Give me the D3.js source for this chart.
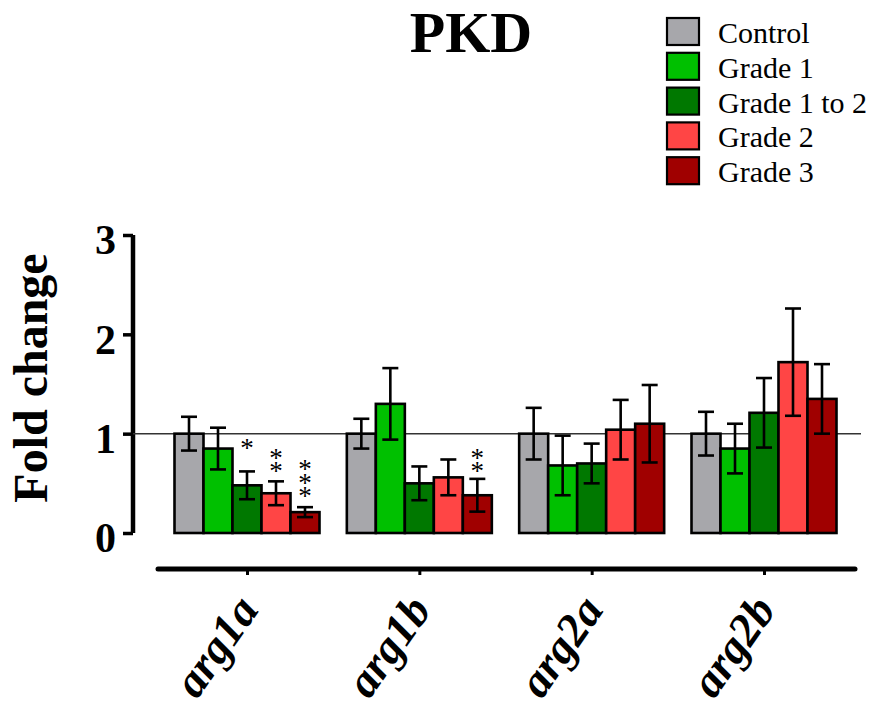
<!DOCTYPE html>
<html>
<head>
<meta charset="utf-8">
<script src="https://cdn.jsdelivr.net/npm/d3@7"></script>
<style>
  body { margin: 0; background: #fff; }
  svg { display: block; }
  .stars { writing-mode: vertical-rl; text-orientation: upright; }
</style>
</head>
<body>
<svg id="chart" width="877" height="713"></svg>
<script>
// ---- Data ----
const genes = ["arg1a", "arg1b", "arg2a", "arg2b"];
const groups = ["Control", "Grade 1", "Grade 1 to 2", "Grade 2", "Grade 3"];
const colors = ["#a7a7ab", "#00c000", "#007800", "#ff4545", "#a00000"];
// mean fold change per gene (rows) x group (cols)
const means = [
  [1.00, 0.85, 0.48, 0.40, 0.21],
  [1.00, 1.30, 0.50, 0.56, 0.38],
  [1.00, 0.68, 0.70, 1.04, 1.10],
  [1.00, 0.85, 1.21, 1.72, 1.35]
];
const errors = [
  [0.17, 0.21, 0.14, 0.12, 0.05],
  [0.15, 0.36, 0.17, 0.18, 0.165],
  [0.26, 0.30, 0.20, 0.30, 0.39],
  [0.22, 0.25, 0.35, 0.54, 0.35]
];
// significance annotations: gene index, group index, stars, value of top star
const sigGene = [0, 0, 0, 1];
const sigGroup = [2, 3, 4, 4];
const sigStars = ["*", "**", "***", "**"];
const sigTop = [0.91, 0.81, 0.69, 0.81];
const yTicks = [0, 1, 2, 3];

// ---- Layout ----
const svg = d3.select("#chart");
const serif = "'Liberation Serif', 'Times New Roman', serif";

const y = d3.scaleLinear().domain([0, 3]).range([533, 235]);
const x0 = d3.scalePoint().domain(genes).range([247, 764]);
const x1 = d3.scaleBand().domain(groups).range([-72.5, 72.5]);

// Title
svg.append("text")
  .attr("x", 471).attr("y", 52)
  .attr("text-anchor", "middle")
  .attr("font-family", serif).attr("font-weight", "bold")
  .attr("font-size", 58)
  .text("PKD");

// Legend
const leg = svg.append("g").attr("transform", "translate(667,18)");
groups.forEach((g, i) => {
  const row = leg.append("g").attr("transform", `translate(0,${i * 34.8})`);
  row.append("rect").attr("x", 0).attr("y", 0).attr("width", 32).attr("height", 27)
    .attr("fill", colors[i]).attr("stroke", "#000").attr("stroke-width", 2.2);
  row.append("text").attr("x", 51).attr("y", 25)
    .attr("font-family", serif).attr("font-size", 30).text(g);
});

// Y axis
const yAxis = d3.axisLeft(y).tickValues(yTicks).tickFormat(d3.format("d")).tickSize(10).tickPadding(7);
const yg = svg.append("g").attr("transform", "translate(133,0)").call(yAxis);
yg.select(".domain").attr("stroke", "#000").attr("stroke-width", 4.5)
  .attr("d", `M0,${y(3)}V${y(0)}`);
yg.selectAll(".tick line").attr("stroke", "#000").attr("stroke-width", 3.5);
yg.selectAll(".tick text")
  .attr("font-family", serif).attr("font-weight", "bold").attr("font-size", 42)
  .attr("fill", "#000").attr("dy", "0.45em");

// Y label
svg.append("text")
  .attr("transform", "translate(47,378) rotate(-90)")
  .attr("text-anchor", "middle")
  .attr("font-family", serif).attr("font-weight", "bold").attr("font-size", 48)
  .text("Fold change");

// Reference line at 1
svg.append("line")
  .attr("x1", 133).attr("x2", 861)
  .attr("y1", y(1)).attr("y2", y(1))
  .attr("stroke", "#333").attr("stroke-width", 1.5);

// Bars
const gg = svg.append("g");
genes.forEach((gene, gi) => {
  const g = gg.append("g").attr("transform", `translate(${x0(gene)},0)`);
  groups.forEach((grp, si) => {
    const v = means[gi][si];
    const e = errors[gi][si];
    const bx = x1(grp);
    const bw = x1.bandwidth();
    g.append("rect")
      .attr("x", bx).attr("y", y(v))
      .attr("width", bw).attr("height", y(0) - y(v))
      .attr("fill", colors[si]).attr("stroke", "#000").attr("stroke-width", 2.6);
    const cx = bx + bw / 2;
    const eb = g.append("g").attr("stroke", "#000").attr("stroke-width", 2.6);
    eb.append("line").attr("x1", cx).attr("x2", cx).attr("y1", y(v + e)).attr("y2", y(v - e));
    eb.append("line").attr("x1", cx - 8).attr("x2", cx + 8).attr("y1", y(v + e)).attr("y2", y(v + e));
    eb.append("line").attr("x1", cx - 8).attr("x2", cx + 8).attr("y1", y(v - e)).attr("y2", y(v - e));
  });
});

// Significance stars: one vertical text per annotation
sigGene.forEach((gi, k) => {
  const grp = groups[sigGroup[k]];
  const cx = x0(genes[gi]) + x1(grp) + x1.bandwidth() / 2;
  svg.append("text")
    .attr("class", "stars")
    .attr("x", cx)
    .attr("y", y(sigTop[k]) - 10)
    .attr("font-family", serif).attr("font-size", 27)
    .attr("letter-spacing", -16.5)
    .text(sigStars[k]);
});

// X axis
const xAxis = d3.axisBottom(x0).tickSize(6).tickFormat("");
const xg = svg.append("g").attr("transform", "translate(0,569)").call(xAxis);
xg.select(".domain").attr("stroke", "#000").attr("stroke-width", 5)
  .attr("stroke-linecap", "round").attr("d", "M158,0H855");
xg.selectAll(".tick line").attr("stroke", "#000").attr("stroke-width", 3);

// X labels (rotated, bold italic)
genes.forEach(gene => {
  svg.append("text")
    .attr("transform", `translate(${x0(gene) + 13},610) rotate(-55)`)
    .attr("text-anchor", "end")
    .attr("font-family", serif).attr("font-weight", "bold").attr("font-style", "italic")
    .attr("font-size", 46)
    .text(gene);
});
</script>
</body>
</html>
